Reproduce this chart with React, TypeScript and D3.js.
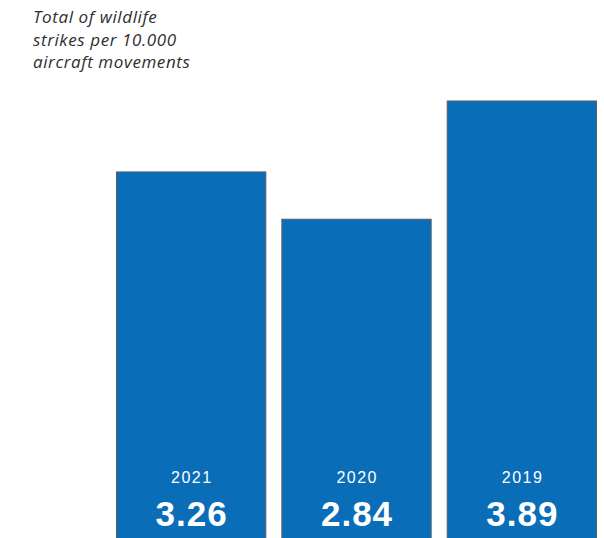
import React from "react";
import * as d3 from "d3";

const years = ["2021", "2020", "2019"];
const values = [3.26, 2.84, 3.89];
const titleLines = ["Total of wildlife", "strikes per 10.000", "aircraft movements"];

const W = 604;
const H = 538;

export default function App() {
  const x = d3.scaleBand<string>().domain(years).range([116.5, 596.5]).paddingInner(0.097).paddingOuter(0);
  const y = d3.scaleLinear().domain([0, 4]).range([539, 539 - 4 * 112.6]);
  return (
    <svg width={W} height={H} style={{ position: "absolute", left: 0, top: 0, background: "#fff" }}>
      <g>
        {titleLines.map((t, i) => (
          <text key={t} x={33} y={23 + i * 22.5} fontFamily="'Open Sans', sans-serif" fontStyle="italic" fontSize={17} letterSpacing={0.6} fill="#2e2e2e">
            {t}
          </text>
        ))}
      </g>
      {years.map((yr, i) => {
        const bx = x(yr)!;
        const by = y(values[i]);
        const cx = bx + x.bandwidth() / 2;
        return (
          <g key={yr}>
            <rect x={bx} y={by} width={x.bandwidth()} height={y(0) - by + 10} fill="#0a6db8" stroke="#5a5f66" strokeWidth={1} />
            <text x={cx + 0.7} y={483} textAnchor="middle" fontFamily="'Liberation Sans', Arial, sans-serif" fontSize={16} letterSpacing={1.5} fill="#fff">
              {yr}
            </text>
            <text x={cx + 0.5} y={526} textAnchor="middle" fontFamily="'Liberation Sans', Arial, sans-serif" fontWeight="bold" fontSize={35} letterSpacing={1} fill="#fff">
              {values[i].toFixed(2)}
            </text>
          </g>
        );
      })}
    </svg>
  );
}
